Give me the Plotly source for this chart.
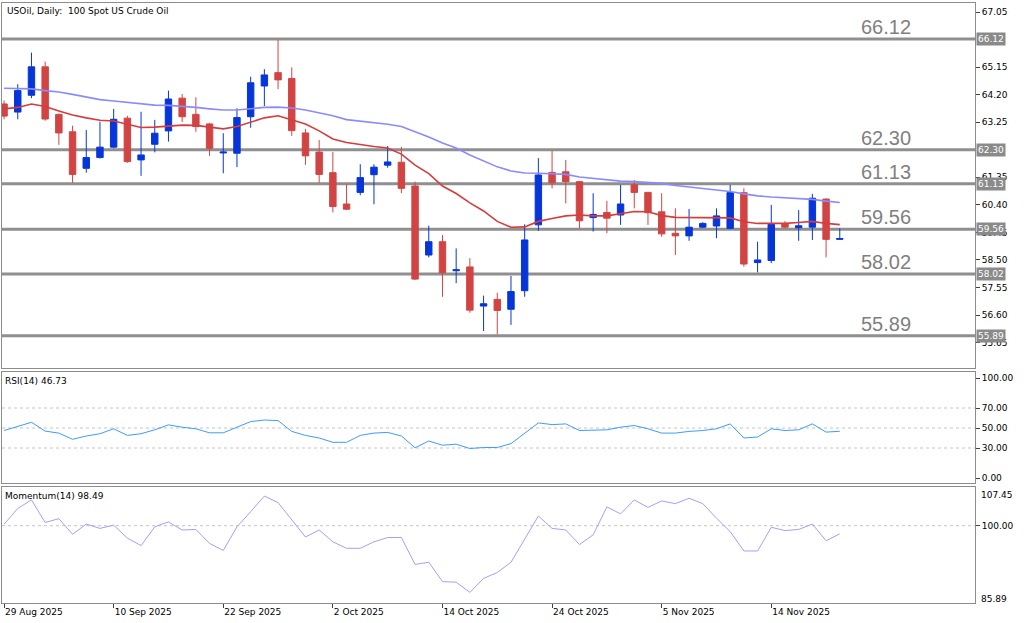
import plotly.graph_objects as go
from plotly.subplots import make_subplots

# ---------------- data ----------------
bar_index = list(range(62))
open_ = [63.88, 63.60, 64.18, 65.16, 63.52, 62.92, 61.66, 62.03, 62.39, 63.39,
         61.95, 62.49, 62.95, 64.08, 63.52, 63.19, 62.19, 62.18, 63.44, 64.50,
         64.96, 64.76, 62.88, 62.22, 61.51, 60.43, 60.83, 61.44, 61.77, 61.87,
         61.05, 58.67, 59.13, 58.13, 58.26, 56.91, 57.14, 56.80, 57.44, 59.71,
         61.52, 61.54, 61.20, 59.96, 60.14, 60.05, 61.09, 60.83, 60.16, 59.42,
         59.33, 59.63, 59.67, 59.59, 60.82, 58.41, 58.48, 59.74, 59.61, 59.63,
         60.60, 59.21]
high_ = [64.00, 64.56, 65.65, 65.34, 63.55, 63.13, 62.98, 63.27, 63.71, 63.47,
         63.61, 63.33, 64.34, 64.22, 64.11, 63.23, 62.87, 63.73, 64.82, 65.08,
         66.09, 65.14, 63.02, 62.64, 62.22, 61.11, 61.80, 61.80, 62.43, 62.40,
         61.20, 59.68, 59.36, 58.90, 58.56, 57.27, 57.37, 57.95, 59.73, 62.01,
         62.27, 61.95, 61.22, 60.80, 60.54, 61.09, 61.26, 60.85, 60.80, 60.28,
         60.26, 59.80, 60.28, 61.09, 60.97, 59.13, 60.40, 59.84, 60.22, 60.78,
         60.62, 59.59]
low_ = [63.35, 63.35, 64.08, 63.30, 62.47, 61.16, 61.51, 62.00, 62.35, 61.85,
        61.40, 62.21, 62.58, 63.26, 62.92, 62.09, 61.49, 61.70, 63.06, 63.81,
        64.39, 62.78, 61.78, 61.16, 60.14, 60.22, 60.73, 60.42, 61.68, 60.80,
        57.81, 58.59, 57.23, 57.70, 56.68, 56.05, 55.94, 56.26, 57.23, 59.50,
        60.97, 60.45, 59.59, 59.48, 59.42, 59.71, 60.28, 59.71, 59.30, 58.67,
        59.16, 59.60, 59.25, 59.56, 58.27, 58.07, 58.39, 59.60, 59.16, 59.19,
        58.59, 59.19]
close_ = [63.46, 64.34, 65.16, 63.36, 62.88, 61.45, 62.03, 62.39, 63.35, 61.89,
          62.12, 62.87, 64.05, 63.44, 63.10, 62.35, 62.22, 63.41, 64.61, 64.88,
          64.71, 62.96, 62.09, 61.45, 60.34, 60.25, 61.34, 61.70, 61.88, 60.97,
          57.84, 59.13, 58.06, 58.16, 56.77, 56.99, 56.76, 57.41, 59.19, 61.43,
          61.16, 61.20, 59.85, 60.07, 59.94, 60.43, 60.83, 60.13, 59.40, 59.33,
          59.63, 59.76, 60.02, 60.82, 58.36, 58.50, 59.73, 59.63, 59.68, 60.63,
          59.21, 59.24]

ma_fast = [63.71, 63.76, 63.88, 63.79, 63.64, 63.50, 63.40, 63.32, 63.29, 63.19,
           63.07, 63.08, 63.11, 63.15, 63.14, 63.07, 63.02, 63.10, 63.26, 63.40,
           63.47, 63.34, 63.19, 62.95, 62.67, 62.55, 62.47, 62.41, 62.36, 62.15,
           61.77, 61.48, 61.05, 60.79, 60.47, 60.19, 59.83, 59.63, 59.64, 59.83,
           59.93, 60.02, 60.05, 60.02, 60.02, 60.09, 60.17, 60.16, 60.03, 59.97,
           59.97, 59.97, 59.97, 59.95, 59.82, 59.76, 59.76, 59.76, 59.79, 59.83,
           59.76, 59.72]
ma_slow = [64.42, 64.41, 64.40, 64.34, 64.29, 64.21, 64.11, 64.03, 63.98, 63.93,
           63.87, 63.84, 63.83, 63.80, 63.76, 63.71, 63.67, 63.67, 63.72, 63.76,
           63.77, 63.74, 63.67, 63.57, 63.47, 63.34, 63.29, 63.23, 63.18, 63.10,
           62.93, 62.74, 62.53, 62.36, 62.12, 61.91, 61.71, 61.57, 61.50, 61.49,
           61.48, 61.45, 61.36, 61.31, 61.28, 61.22, 61.20, 61.17, 61.14, 61.07,
           61.02, 60.97, 60.93, 60.86, 60.78, 60.71, 60.67, 60.64, 60.61, 60.59,
           60.53, 60.48]

rsi = [47.5, 51.5, 55.7, 46.9, 44.9, 38.7, 42.0, 44.3, 49.2, 42.6,
       44.3, 48.2, 53.1, 50.8, 49.2, 45.2, 45.2, 50.8, 56.4, 58.0,
       57.4, 46.6, 42.6, 40.0, 35.7, 35.7, 42.6, 44.9, 45.6, 42.0,
       30.2, 37.0, 32.8, 33.8, 29.5, 30.5, 30.5, 34.4, 44.9, 55.1,
       53.4, 54.1, 47.5, 48.2, 48.2, 50.8, 52.5, 49.2, 44.9, 44.9,
       46.6, 47.5, 49.2, 54.1, 40.0, 41.0, 49.2, 47.5, 48.2, 54.1,
       45.9, 46.73]
momentum = [100.27, 103.2, 104.8, 100.6, 101.3, 98.4, 100.3, 99.5, 100.1, 97.7,
            96.3, 99.8, 100.7, 99.2, 99.3, 96.7, 95.4, 99.8, 102.6, 105.5,
            104.3, 101.1, 97.9, 99.2, 97.0, 95.8, 95.8, 97.0, 97.8, 97.8,
            92.8, 93.2, 89.6, 89.5, 87.6, 90.2, 91.3, 93.2, 97.5, 101.8,
            99.5, 99.2, 96.5, 98.3, 103.5, 102.2, 104.8, 103.4, 104.6, 104.1,
            105.1, 104.1, 101.4, 98.9, 95.3, 95.3, 99.7, 99.1, 99.3, 100.3,
            97.2, 98.49]

level_prices = [66.12, 62.30, 61.13, 59.56, 58.02, 55.89]
level_labels = ["66.12", "62.30", "61.13", "59.56", "58.02", "55.89"]
# scale labels left visible next to the level boxes
price_ticks = [67.05, 65.15, 64.20, 63.25, 61.35, 60.40,
               59.45, 58.50, 57.55, 56.60, 55.65]
x_tick_index = [0, 8, 16, 24, 32, 40, 48, 56]
x_tick_labels = ["29 Aug 2025", "10 Sep 2025", "22 Sep 2025", "2 Oct 2025",
                 "14 Oct 2025", "24 Oct 2025", "5 Nov 2025", "14 Nov 2025"]
rsi_ticks = [0, 30, 50, 70, 100]
rsi_levels = [30, 50, 70]
mom_ticks = [100]
mom_edge_labels = ["107.45", "85.89"]

title_text = "USOil, Daily:\u00a0 100 Spot US Crude Oil"
rsi_text = "RSI(14) 46.73"
mom_text = "Momentum(14) 98.49"

# ---------------- style ----------------
BLUE = "#0636d9"
RED = "#d24444"
MA_RED = "#d63c3c"
MA_BLUE = "#8a8aff"
RSI_C = "#3c9cff"
MOM_C = "#a0a0ff"
FRAME = "#8c8c8c"
FONT = "DejaVu Sans"

fig = make_subplots(rows=3, cols=1, shared_xaxes=True, vertical_spacing=0.0)

fig.add_trace(go.Candlestick(
    x=bar_index, open=open_, high=high_, low=low_, close=close_,
    increasing=dict(line=dict(color=BLUE, width=1), fillcolor=BLUE),
    decreasing=dict(line=dict(color=RED, width=1), fillcolor=RED),
    whiskerwidth=0, showlegend=False, hoverinfo="skip"), row=1, col=1)
fig.add_trace(go.Scatter(x=bar_index, y=ma_slow, mode="lines",
                         line=dict(color=MA_BLUE, width=1.6), showlegend=False,
                         hoverinfo="skip"), row=1, col=1)
fig.add_trace(go.Scatter(x=bar_index, y=ma_fast, mode="lines",
                         line=dict(color=MA_RED, width=1.6), showlegend=False,
                         hoverinfo="skip"), row=1, col=1)
fig.add_trace(go.Scatter(x=bar_index, y=rsi, mode="lines",
                         line=dict(color=RSI_C, width=1), showlegend=False,
                         hoverinfo="skip"), row=2, col=1)
fig.add_trace(go.Scatter(x=bar_index, y=momentum, mode="lines",
                         line=dict(color=MOM_C, width=1), showlegend=False,
                         hoverinfo="skip"), row=3, col=1)

# horizontal levels on main chart
for p in level_prices:
    fig.add_shape(type="line", xref="x domain", yref="y", x0=0, x1=1, y0=p, y1=p,
                  line=dict(color="#8f8f8f", width=3), layer="below")
for p, t in zip(level_prices, level_labels):
    fig.add_annotation(xref="paper", yref="y", x=0.9085, y=p, text=t,
                       showarrow=False, xanchor="center", yanchor="bottom", yshift=-1,
                       font=dict(family="Liberation Sans", size=20, color="#7f7f7f"))
    fig.add_annotation(xref="paper", yref="y", x=1, y=p, text=t, xanchor="left",
                       xshift=1, showarrow=False, bgcolor="#8a8a8a", borderpad=1,
                       font=dict(family=FONT, size=9, color="white"))

for lv in rsi_levels:
    fig.add_shape(type="line", xref="x2 domain", yref="y2", x0=0, x1=1, y0=lv, y1=lv,
                  line=dict(color="#c4c4c4", width=1, dash="dot"), layer="below")
for lv in mom_ticks:
    fig.add_shape(type="line", xref="x3 domain", yref="y3", x0=0, x1=1, y0=lv, y1=lv,
                  line=dict(color="#c4c4c4", width=1, dash="dot"), layer="below")

# panel texts
fig.add_annotation(xref="paper", yref="y domain", x=0.003, y=1, yshift=-1,
                   xanchor="left", yanchor="top", text=title_text, showarrow=False,
                   font=dict(family=FONT, size=9, color="black"))
fig.add_annotation(xref="paper", yref="y2 domain", x=0.001, y=1, yshift=-2,
                   xanchor="left", yanchor="top", text=rsi_text, showarrow=False,
                   font=dict(family=FONT, size=9, color="black"))
fig.add_annotation(xref="paper", yref="y3 domain", x=0.001, y=1, yshift=-2,
                   xanchor="left", yanchor="top", text=mom_text, showarrow=False,
                   font=dict(family=FONT, size=9, color="black"))
for t, yy, anc, ys in zip(mom_edge_labels, [1, 0], ["top", "bottom"], [-1, -3]):
    fig.add_annotation(xref="paper", yref="y3 domain", x=1, y=yy, xanchor="left",
                       yanchor=anc, xshift=4, yshift=ys,
                       text=t, showarrow=False,
                       font=dict(family=FONT, size=9, color="black"))

axis_common = dict(showgrid=False, zeroline=False, showline=True, mirror=True,
                   linecolor=FRAME, linewidth=1)
xr = [-0.15, 70.87]
fig.update_xaxes(range=xr, rangeslider_visible=False, **axis_common)
fig.update_xaxes(showticklabels=False, ticks="", row=1, col=1)
fig.update_xaxes(showticklabels=False, ticks="", row=2, col=1)
fig.update_xaxes(tickmode="array", tickvals=x_tick_index, ticktext=x_tick_labels,
                 ticks="outside", ticklen=4, tickcolor="#404040",
                 ticklabelposition="outside right",
                 tickfont=dict(family=FONT, size=9, color="black"), row=3, col=1)

yfont = dict(family=FONT, size=9, color="black")
fig.update_yaxes(side="right", ticks="outside", ticklen=4, tickcolor="#404040",
                 tickfont=yfont, **axis_common)
fig.update_yaxes(range=[54.775, 67.361], tickmode="array", tickvals=price_ticks,
                 ticktext=[f"{v:.2f}" for v in price_ticks], row=1, col=1)
fig.update_yaxes(range=[-5, 106], tickmode="array", tickvals=rsi_ticks,
                 ticktext=[f"{v:.2f}" for v in rsi_ticks], row=2, col=1)
fig.update_yaxes(range=[85.63, 107.19], tickmode="array", tickvals=mom_ticks,
                 ticktext=[f"{v:.2f}" for v in mom_ticks], row=3, col=1)

fig.update_layout(
    width=1024, height=623,
    margin=dict(l=2, r=49, t=3, b=20),
    paper_bgcolor="white", plot_bgcolor="white",
    boxgap=0.33, showlegend=False,
    yaxis=dict(domain=[0.3917, 1.0]),
    yaxis2=dict(domain=[0.2, 0.385]),
    yaxis3=dict(domain=[0.0, 0.1933]),
)

fig.write_html("out.html")
